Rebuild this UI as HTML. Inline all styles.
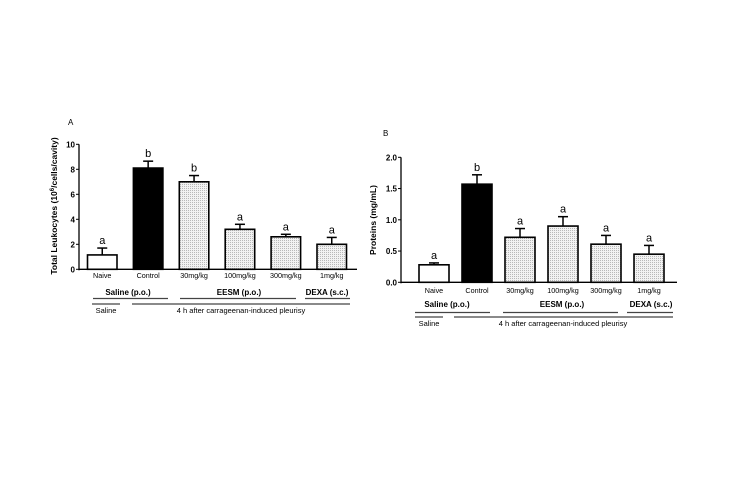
<!DOCTYPE html>
<html><head><meta charset="utf-8"><style>
html,body{margin:0;padding:0;background:#fff;}
svg{display:block;font-family:"Liberation Sans",Arial,sans-serif;}
</style></head><body>
<svg id="s" width="750" height="499" viewBox="0 0 750 499">
<defs><pattern id="dots" width="2" height="2" patternUnits="userSpaceOnUse"><rect width="2" height="2" fill="#f2f2f2"/><rect width="1" height="1" fill="#b8b8b8"/></pattern></defs>
</svg>
<script>
const categories=["Naive","Control","30mg/kg","100mg/kg","300mg/kg","1mg/kg"];
const leukoValues=[1.15,8.1,7.0,3.2,2.6,2.0];
const leukoErrors=[0.55,0.55,0.5,0.4,0.2,0.55];
const leukoLetters=["a","b","b","a","a","a"];
const leukoTicks=[0,2,4,6,8,10];
const protValues=[0.28,1.57,0.72,0.9,0.61,0.45];
const protErrors=[0.03,0.15,0.14,0.15,0.14,0.14];
const protLetters=["a","b","a","a","a","a"];
const protTicks=["0.0","0.5","1.0","1.5","2.0"];
const NS="http://www.w3.org/2000/svg";
const svg=document.getElementById('s');
function el(tag,attrs,parent,text){const e=document.createElementNS(NS,tag);for(const k in attrs)e.setAttribute(k,attrs[k]);if(text!==undefined)e.textContent=text;(parent||svg).appendChild(e);return e;}
function panel(cfg){
  const g=el('g',{});
  
  
  const y=v=>cfg.y0-(v-cfg.min)/(cfg.max-cfg.min)*(cfg.y0-cfg.y1);
  const x=i=>cfg.xs+i*cfg.step;
  const ax=el('line',{x1:cfg.ax,y1:cfg.y1,x2:cfg.ax,y2:cfg.y0+1,stroke:'#000','stroke-width':1.3},g);
  
  const xa=el('line',{x1:cfg.ax,y1:cfg.y0,x2:cfg.xend,y2:cfg.y0,stroke:'#000','stroke-width':1.3},g);
  
  cfg.ticks.forEach(t=>{const v=parseFloat(t);
    el('line',{x1:cfg.ax-3,y1:y(v),x2:cfg.ax,y2:y(v),stroke:'#000','stroke-width':1},g);
    const tl=el('text',{x:cfg.ax-4,y:y(v)+3,'font-size':8,'text-anchor':'end','font-weight':'bold'},g,t);
    
  });
  cfg.values.forEach((v,i)=>{
    const bx=x(i),top=y(v),et=y(v+cfg.errors[i]);
    const fill=i==0?'#fff':(i==1?'#000':'url(#dots)');
    const r=el('rect',{x:bx,y:top,width:cfg.bw,height:cfg.y0-top,fill:fill,stroke:'#000','stroke-width':1.6},g);
    
    const c=bx+cfg.bw/2;
    el('line',{x1:c,y1:top,x2:c,y2:et,stroke:'#000','stroke-width':1.5},g);
    el('line',{x1:c-5,y1:et,x2:c+5,y2:et,stroke:'#000','stroke-width':1.5},g);
    const lt=el('text',{x:c,y:et-4,'font-size':11,'text-anchor':'middle'},g,cfg.letters[i]);
    
    const xl=el('text',{x:c,y:cfg.labelY,'font-size':7.2,'text-anchor':'middle'},g,categories[i]);
    
  });
  cfg.groups.forEach(gr=>{
    const t=el('text',{x:gr[0],y:gr[1],'font-size':8,'font-weight':'bold','text-anchor':'middle'},g,gr[2]);
    
    el('line',{x1:gr[3],y1:gr[4],x2:gr[5],y2:gr[4],stroke:'#444','stroke-width':1.2},g);
  });
  cfg.rows.forEach(gr=>{
    const t=el('text',{x:gr[0],y:gr[1],'font-size':7.5,'text-anchor':'middle'},g,gr[2]);
    
    el('line',{x1:gr[3],y1:gr[4],x2:gr[5],y2:gr[4],stroke:'#444','stroke-width':1.2},g);
  });
  const pl=el('text',{x:cfg.letterXY[0],y:cfg.letterXY[1],'font-size':8},g,cfg.letter);
  
  const yt=el('text',{x:0,y:0,'font-size':8.5,'font-weight':'bold','text-anchor':'middle',transform:`translate(${cfg.ylab[0]},${cfg.ylab[1]}) rotate(-90)`},g);
  
  yt.innerHTML=cfg.ytitle;
}
panel({name:'panel-a-leukocytes',min:0,max:10,y0:269.3,y1:144.3,ax:79,xend:357,xs:87.5,step:45.9,bw:29.5,
  ticks:leukoTicks.map(String),values:leukoValues,errors:leukoErrors,letters:leukoLetters,labelY:278,
  groups:[[128,295,'Saline (p.o.)',93,298.5,168],[239,295,'EESM (p.o.)',180,298.5,296],[327,295,'DEXA (s.c.)',305,298.5,350]],
  rows:[[106,313,'Saline',92,304,120],[241,313,'4 h after carrageenan-induced pleurisy',132,304,350]],
  letter:'A',letterXY:[68,125],ylab:[57,206],
  ytitle:'Total Leukocytes (10<tspan font-size="6" dy="-3">6</tspan><tspan dy="3">/cells/cavity)</tspan>'});
panel({name:'panel-b-proteins',min:0,max:2,y0:282.3,y1:157.3,ax:401,xend:677,xs:419,step:43,bw:30,
  ticks:protTicks,values:protValues,errors:protErrors,letters:protLetters,labelY:293,
  groups:[[447,307,'Saline (p.o.)',415,312.5,490],[562,307,'EESM (p.o.)',503,312.5,618],[651,307,'DEXA (s.c.)',627,312.5,673]],
  rows:[[429,326,'Saline',415,317,443],[563,326,'4 h after carrageenan-induced pleurisy',454,317,673]],
  letter:'B',letterXY:[383,136],ylab:[376,220],ytitle:'Proteins (mg/mL)'});
</script>
</body></html>
